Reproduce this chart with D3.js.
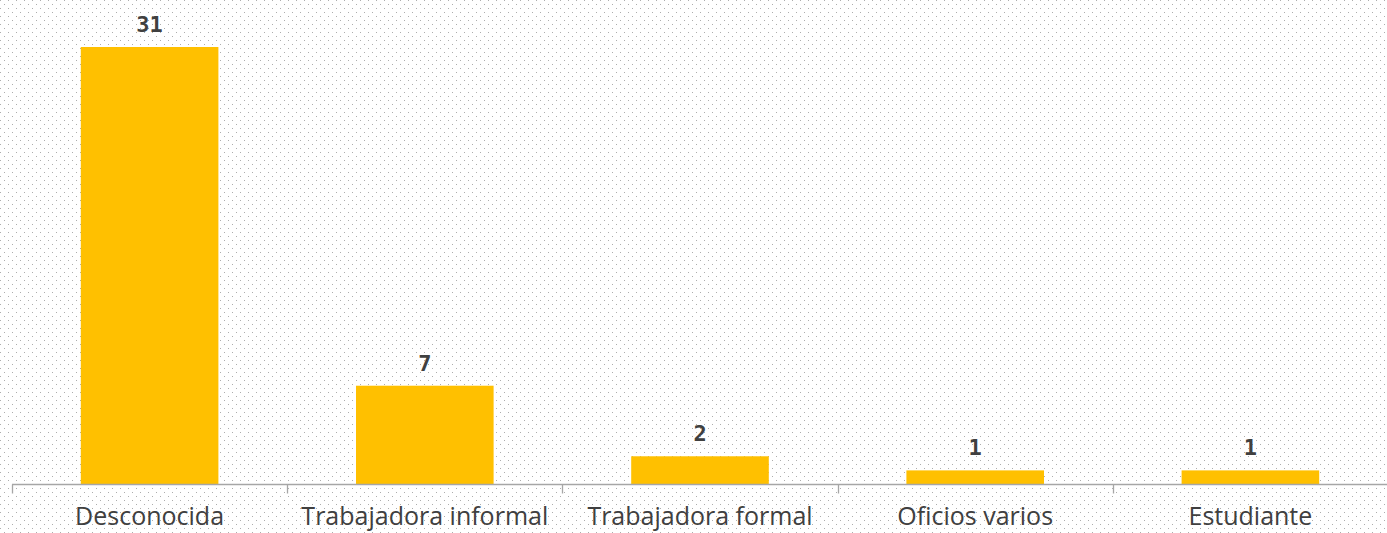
<!DOCTYPE html>
<html><head><meta charset="utf-8">
<script src="https://cdn.jsdelivr.net/npm/d3@7"></script>
<style>html,body{margin:0;padding:0;background:#fff;}svg{display:block;}</style>
</head><body>
<script>
const categories = ["Desconocida","Trabajadora informal","Trabajadora formal","Oficios varios","Estudiante"];
const values = [31,7,2,1,1];

const W = 1387, H = 533;
const svg = d3.select("body").append("svg").attr("width", W).attr("height", H);
const defs = svg.append("defs");
const pat = defs.append("pattern").attr("id","dots").attr("patternUnits","userSpaceOnUse")
  .attr("width",8).attr("height",8);
pat.append("rect").attr("x",0).attr("y",0).attr("width",1).attr("height",1).attr("fill","#adadad");
pat.append("rect").attr("x",4).attr("y",4).attr("width",1).attr("height",1).attr("fill","#adadad");
svg.append("rect").attr("width",W).attr("height",H).attr("fill","#fff");
svg.append("rect").attr("width",W).attr("height",H).attr("fill","url(#dots)");

const x = d3.scaleBand().domain(categories).range([12, 1388]).paddingInner(0).paddingOuter(0);
const y = d3.scaleLinear().domain([0,31]).range([484.5,47]);
const bw = x.bandwidth()*0.5;

svg.selectAll("rect.bar").data(values).enter().append("rect").attr("class","bar")
  .attr("x",(d,i)=>x(categories[i])+x.bandwidth()/2-bw/2)
  .attr("y",d=>y(d)).attr("width",bw).attr("height",d=>y(0)-y(d))
  .attr("fill","#ffc000");

const axis = d3.axisBottom(x).tickSize(10).tickFormat("");
const g = svg.append("g").attr("transform","translate(0,484.5)").call(axis);
g.select(".domain").attr("stroke","#a6a6a6").attr("stroke-width",1.3).attr("d","M12,0H1388");
g.selectAll(".tick").remove();
const edges = categories.map(c=>x(c)).concat([x(categories[categories.length-1])+x.bandwidth()]);
g.selectAll("line.edge").data(edges).enter().append("line").attr("class","edge")
  .attr("x1",d=>Math.round(d)+0.5).attr("x2",d=>Math.round(d)+0.5).attr("y1",0).attr("y2",9)
  .attr("stroke","#a6a6a6").attr("stroke-width",1.3);

svg.selectAll("text.cat").data(categories).enter().append("text").attr("class","cat")
  .attr("x",d=>x(d)+x.bandwidth()/2).attr("y",525)
  .attr("text-anchor","middle").attr("font-family","'Open Sans', sans-serif")
  .attr("font-size",25).attr("fill","#404040").text(d=>d);

svg.selectAll("text.val").data(values).enter().append("text").attr("class","val")
  .attr("x",(d,i)=>x(categories[i])+x.bandwidth()/2).attr("y",d=>y(d)-15)
  .attr("text-anchor","middle").attr("font-family","'DejaVu Sans Mono', monospace")
  .attr("font-weight","bold").attr("font-size",22).attr("fill","#404040").text(d=>d);
</script>
</body></html>
